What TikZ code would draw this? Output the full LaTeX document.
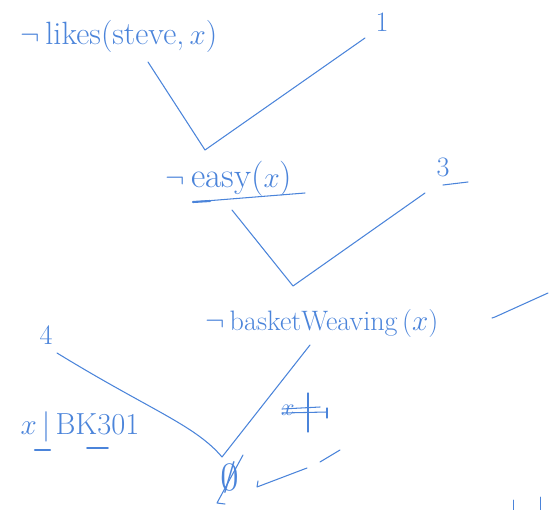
\documentclass[tikz,border=0pt]{standalone}
\usepackage{amssymb}
\begin{document}
\begin{tikzpicture}[x=0.03cm,y=-0.03cm,
  ink/.style={draw=inkc, line width=0.9pt, line cap=round, line join=round},
  lbl/.style={text=inkc, inner sep=1pt},
  num/.style={text=inkc, inner sep=1pt, font=\fontsize{24}{26}\selectfont}]
\definecolor{inkc}{RGB}{75,132,218}
\useasboundingbox (0,0) rectangle (558,510);
% clauses
\node[lbl, font=\fontsize{27.5}{30}\selectfont] (n1) at (119,36) {$\neg$\,likes(steve,\,$x$)};
\node[num] (c1) at (382,22) {1};
\node[lbl, font=\fontsize{30}{32}\selectfont] (n2) at (229,179) {$\neg$\,easy($x$)};
\node[num] (c3) at (443,167) {3};
\node[lbl, font=\fontsize{24}{28}\selectfont] (n3) at (322,323) {$\neg$\,basketWeaving\,($x$)};
\node[num] (c4) at (46,335) {4};
\node[lbl, font=\fontsize{26}{28}\selectfont] (sub) at (80,427) {$x$\,|\,BK301};
\node[lbl, font=\fontsize{22}{26}\selectfont] (xs) at (288,410) {$x$};
\node[lbl] (e) at (230,477) {\scalebox{3.2}{$\emptyset$}};
% resolution points
\coordinate (v1) at (205,150);
\coordinate (v2) at (293,286);
\coordinate (v3) at (222,457);
\coordinate (a1) at (148,62);
\coordinate (b1) at (365,38);
\coordinate (a2) at (232,210);
\coordinate (b2) at (425,193);
\coordinate (a3) at (57,353);
\coordinate (b3) at (310,345);
% connectors
\draw[ink] (a1) -- (v1) -- (b1);
\draw[ink] (a2) -- (v2) -- (b2);
\draw[ink] (a3) .. controls (150,410) and (195,425) .. (v3) -- (b3);
% underlines and marks
\draw[ink] (193,202) -- (305,193);
\draw[ink, line width=1.8pt] (193,202) -- (210,201);
\draw[ink] (443,185) -- (468,182);
\draw[ink, line width=1.8pt] (35,450) -- (50,450);
\draw[ink, line width=1.3pt] (87,448) -- (108,448);
\draw[ink] (282,413) -- (327,412);
\draw[ink] (327,408) -- (327,418);
\draw[ink] (282,409) -- (320,407);
\draw[ink] (308,393) -- (308,432);
\draw[ink] (243,455) -- (217,503) -- (225,504);
\draw[ink] (492,318) -- (495,317) -- (548,293);
\draw[ink] (258,481) -- (257,487) -- (307,468);
\draw[ink] (320,462) -- (340,450);
\draw[ink, line width=0.6pt] (513,500) -- (513,510);
\draw[ink, line width=0.6pt] (540,497) -- (540,510);
\end{tikzpicture}
\end{document}
